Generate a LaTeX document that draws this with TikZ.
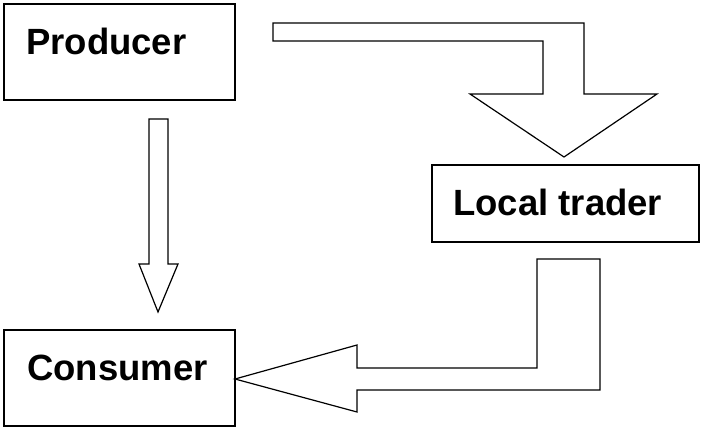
\documentclass[tikz,border=0pt]{standalone}
\usepackage{fontspec}
\setmainfont{Liberation Sans}
\begin{document}
\begin{tikzpicture}[x=1pt,y=-1pt,
  boxnode/.style={draw=black,line width=1.4pt,fill=white},
  labeltext/.style={font=\fontsize{36.5}{40}\selectfont\bfseries,inner sep=0pt,anchor=base west},
  blockarrow/.style={draw=black,line width=1.2pt,fill=white,line join=miter}]
\useasboundingbox (0,0) rectangle (701,427);
% boxes
\draw[boxnode] (4,4) rectangle (235,100);
\draw[boxnode] (432,165) rectangle (699,242);
\draw[boxnode] (4,330) rectangle (235,426);
\node[labeltext] (producer) at (26,55) {Producer};
\node[labeltext] (trader) at (453,216) {Local trader};
\node[labeltext] (consumer) at (27,381) {Consumer};
% producer -> consumer
\draw[blockarrow] (149,119) -- (168,119) -- (168,264) -- (178,264) -- (158,312) -- (139,264) -- (149,264) -- cycle;
% producer -> local trader
\draw[blockarrow] (273,23) -- (584,23) -- (584,94) -- (657,94) -- (564,157) -- (470,94) -- (543,94) -- (543,41) -- (273,41) -- cycle;
% local trader -> consumer
\draw[blockarrow] (537,259) -- (600,259) -- (600,390) -- (357,390) -- (357,412) -- (235,379) -- (357,345) -- (357,368) -- (537,368) -- cycle;
\end{tikzpicture}
\end{document}
